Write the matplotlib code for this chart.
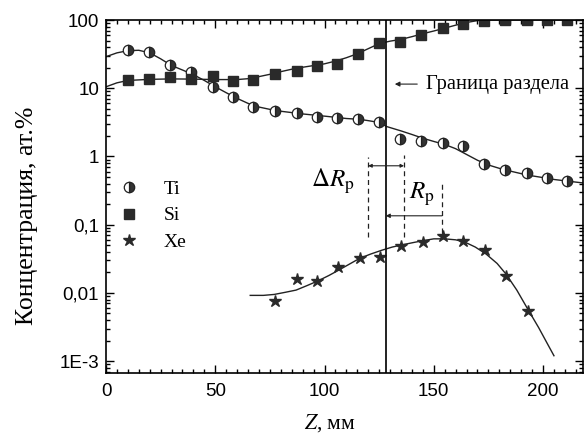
import matplotlib
matplotlib.use("Agg")
import matplotlib.pyplot as plt
from matplotlib.ticker import FixedLocator, FixedFormatter, LogLocator, MultipleLocator, NullFormatter
from matplotlib.lines import Line2D

plt.rcParams['mathtext.fontset'] = 'stix'

SERIF = 'Liberation Serif'
SANS = 'Liberation Sans'

# measured points (Z in mm, concentration in at.%)
ti_z = [10.1, 19.7, 29.3, 38.9, 49.0, 58.1, 67.3, 77.3, 87.4, 96.6, 105.7, 115.3,
        124.9, 134.6, 144.2, 154.2, 163.4, 173.0, 182.6, 192.7, 201.8, 211.0]
ti_c = [36.2, 33.8, 21.8, 17.3, 10.4, 7.4, 5.3, 4.7, 4.3, 3.83, 3.63, 3.51,
        3.24, 1.79, 1.71, 1.56, 1.40, 0.78, 0.64, 0.58, 0.49, 0.43]

si_z = [10.1, 19.7, 29.3, 38.9, 49.0, 58.1, 67.3, 77.3, 87.4, 96.6, 105.7, 115.3,
        124.9, 134.6, 144.2, 154.2, 163.4, 173.0, 182.6, 192.7, 201.8, 211.0]
si_c = [13.2, 13.6, 14.6, 13.6, 15.1, 12.7, 13.2, 16.4, 17.8, 21.1, 22.6, 31.6,
        45.7, 47.3, 60.0, 75.9, 87.0, 98.0, 100.0, 100.0, 100.0, 100.0]

xe_z = [77.3, 87.4, 96.6, 106.2, 116.2, 125.4, 135.0, 145.1, 154.2, 163.4, 173.5, 183.1, 193.1]
xe_c = [0.0075, 0.0161, 0.0148, 0.0238, 0.033, 0.0333, 0.048, 0.0564, 0.0675, 0.057,
        0.042, 0.0176, 0.0054]

# fitted curves
ti_fit_z = [0, 5, 10, 15, 20, 25, 30, 35, 40, 45, 50, 55, 60, 65, 70, 75, 80, 90, 100,
            105, 110, 116, 120, 125, 128.5, 135, 140, 145, 150, 155, 160, 165, 170,
            175, 180, 185, 190, 195, 200, 205, 210, 218]
ti_fit_c = [29, 33, 35.5, 36, 33, 27, 21.5, 18.5, 15.8, 13, 10.5, 8.6, 7.1, 6.0, 5.3,
            4.9, 4.6, 4.2, 3.9, 3.75, 3.6, 3.5, 3.35, 3.15, 2.74, 2.37, 2.1, 1.85, 1.66,
            1.5, 1.3, 1.07, 0.88, 0.75, 0.67, 0.61, 0.56, 0.52, 0.49, 0.46, 0.44, 0.41]

si_fit_z = [0, 5, 10, 20, 30, 40, 50, 60, 65, 70, 75, 80, 85, 90, 95, 100, 105, 110,
            115, 120, 125, 130, 135, 140, 145, 150, 155, 160, 165, 170, 175, 218]
si_fit_c = [10.5, 12, 13, 13.5, 13.7, 13.6, 13.4, 13.4, 13.8, 14.8, 16, 17.5, 19,
            20.3, 21.5, 22.8, 25, 28, 32, 38, 45, 49, 52, 57, 63, 69, 76, 84, 92, 98,
            100, 100]

xe_fit_z = [66, 72, 77, 82, 87, 92, 97, 102, 107, 111, 116, 121, 126, 131, 136, 141,
            146, 150, 155, 160, 164, 169, 174, 179, 183, 188, 193, 198, 202, 205]
xe_fit_c = [0.0092, 0.0092, 0.0095, 0.0102, 0.011, 0.0128, 0.015, 0.018, 0.022, 0.026,
            0.032, 0.037, 0.042, 0.047, 0.051, 0.055, 0.059, 0.062, 0.062, 0.060,
            0.056, 0.047, 0.037, 0.027, 0.019, 0.011, 0.0058, 0.0031, 0.0018, 0.0012]

y_ticks = [1e-3, 1e-2, 1e-1, 1, 10, 100]
y_labels = ['1E-3', '0,01', '0,1', '1', '10', '100']
x_ticks = [0, 50, 100, 150, 200]

# annotation positions (Z, mm)
interface_z = 128
drp_left, drp_right = 120, 136.4
rp_z = 153.8

fig = plt.figure(figsize=(5.87, 4.36), dpi=100)
ax = fig.add_axes([0.1806, 0.1445, 0.8126, 0.8096])

ax.plot(ti_fit_z, ti_fit_c, color='#222222', lw=1.0)
ax.plot(si_fit_z, si_fit_c, color='#222222', lw=1.0)
ax.plot(xe_fit_z, xe_fit_c, color='#222222', lw=1.0)

ax.plot(ti_z, ti_c, ls='none', marker='o', ms=7.5, fillstyle='right',
        mfc='#333333', mfcalt='white', mec='#222222', mew=0.9)
ax.plot(si_z, si_c, ls='none', marker='s', ms=6.5, mfc='#2a2a2a', mec='#2a2a2a')
ax.plot(xe_z, xe_c, ls='none', marker='*', ms=9, mfc='#2a2a2a', mec='#2a2a2a')

ax.set_yscale('log')
ax.set_xlim(0, 218.3)
ax.set_ylim(6.7e-4, 100)

ax.yaxis.set_major_locator(FixedLocator(y_ticks))
ax.yaxis.set_major_formatter(FixedFormatter(y_labels))
ax.yaxis.set_minor_locator(LogLocator(base=10, subs=range(2, 10), numticks=20))
ax.yaxis.set_minor_formatter(NullFormatter())
ax.xaxis.set_major_locator(FixedLocator(x_ticks))
ax.xaxis.set_minor_locator(MultipleLocator(5))

ax.tick_params(which='both', direction='in', top=True, right=True, width=1.0)
ax.tick_params(which='major', length=6, labelsize=13.5)
ax.tick_params(axis='y', which='major', pad=5)
ax.tick_params(axis='x', which='major', pad=7)
ax.tick_params(which='minor', length=3)
for lab in ax.get_xticklabels() + ax.get_yticklabels():
    lab.set_family(SANS)
for s in ax.spines.values():
    s.set_linewidth(1.2)

ax.set_ylabel('Концентрация, ат.%', family=SERIF, fontsize=18.5)
ax.yaxis.set_label_coords(-0.143, 0.445)
ax.set_xlabel('$Z$, мм', family=SERIF, fontsize=15.5)
ax.xaxis.set_label_coords(0.47, -0.112)

# interface
ax.axvline(interface_z, color='#111111', lw=1.3)
ax.annotate('', xy=(130.9, 11.5), xytext=(143.7, 11.5),
            arrowprops=dict(arrowstyle='-|>', color='#222222', lw=0.8, mutation_scale=7))
ax.text(146.5, 11.5, 'Граница раздела', family=SERIF, fontsize=14.8, va='center', ha='left')

# ΔRp and Rp markings
dash = (0, (4, 3))
ax.plot([drp_left, drp_left], [0.065, 0.99], color='#222222', lw=0.9, ls=dash)
ax.plot([drp_right, drp_right], [0.067, 1.05], color='#222222', lw=0.9, ls=dash)
ax.plot([rp_z, rp_z], [0.076, 0.425], color='#222222', lw=0.9, ls=dash)
ax.annotate('', xy=(drp_left, 0.73), xytext=(drp_right, 0.73),
            arrowprops=dict(arrowstyle='<|-|>', color='#222222', lw=0.8,
                            mutation_scale=5, shrinkA=0, shrinkB=0))
ax.annotate('', xy=(interface_z, 0.135), xytext=(rp_z, 0.135),
            arrowprops=dict(arrowstyle='-|>', color='#222222', lw=0.8,
                            mutation_scale=6, shrinkA=0, shrinkB=0))
ax.text(104, 0.43, r'$\Delta R_{\rm p}$', fontsize=18, ha='center', va='center')
ax.text(144.6, 0.28, r'$R_{\rm p}$', fontsize=18, ha='center', va='center')

handles = [
    Line2D([], [], ls='none', marker='o', ms=7.5, fillstyle='right', mfc='#333333',
           mfcalt='white', mec='#222222', mew=0.9),
    Line2D([], [], ls='none', marker='s', ms=6.5, mfc='#2a2a2a', mec='#2a2a2a'),
    Line2D([], [], ls='none', marker='*', ms=9, mfc='#2a2a2a', mec='#2a2a2a'),
]
ax.legend(handles, ['Ti', 'Si', 'Xe'], loc='upper left', bbox_to_anchor=(0.0, 0.584),
          frameon=False, prop={'family': SERIF, 'size': 14}, handlelength=1.0,
          handletextpad=1.25, labelspacing=0.45, borderaxespad=0.3)

fig.savefig('out.png', dpi=100)
